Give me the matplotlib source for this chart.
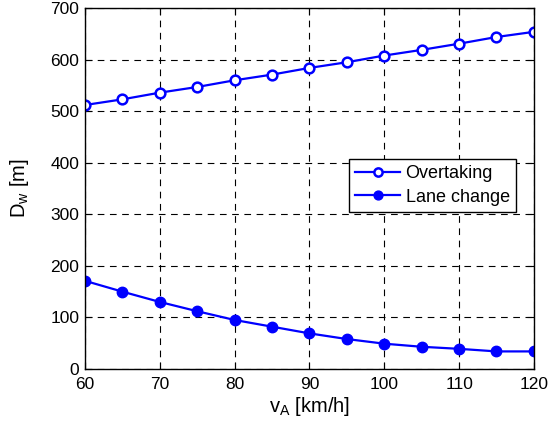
import matplotlib
matplotlib.use("Agg")
import matplotlib.pyplot as plt

# Data
speed = [60, 65, 70, 75, 80, 85, 90, 95, 100, 105, 110, 115, 120]
overtaking = [512, 523, 536, 547, 560, 571, 584, 595, 608, 619, 631, 644, 654]
lane_change = [171, 150, 130, 112, 95, 82, 69, 58, 49, 43, 39, 34, 34]
x_ticks = [60, 70, 80, 90, 100, 110, 120]
y_ticks = [0, 100, 200, 300, 400, 500, 600, 700]

plt.rcParams["font.family"] = ["Liberation Sans", "DejaVu Sans"]
plt.rcParams["mathtext.fontset"] = "custom"
plt.rcParams["mathtext.rm"] = "Liberation Sans"
plt.rcParams["mathtext.it"] = "Liberation Sans"

fig = plt.figure(figsize=(5.51, 4.28), dpi=100)
ax = fig.add_axes([0.154, 0.138, 0.815, 0.843])

ax.plot(speed, overtaking, color="blue", lw=1.6, marker="o", ms=7,
        mfc="white", mec="blue", mew=1.8, label="Overtaking")
ax.plot(speed, lane_change, color="blue", lw=1.6, marker="o", ms=7.5,
        mfc="blue", mec="blue", label="Lane change")

ax.set_xlim(60, 120)
ax.set_ylim(0, 700)
ax.set_xticks(x_ticks)
ax.set_yticks(y_ticks)
ax.tick_params(direction="in", top=True, right=True, labelsize=12.5, length=5)
ax.tick_params(axis="x", pad=6)
ax.tick_params(axis="y", pad=4)
ax.grid(True, color="black", linestyle=(0, (6, 5)), linewidth=0.8)
for s in ax.spines.values():
    s.set_linewidth(1.0)

ax.set_xlabel(r"v$_{\mathrm{A}}$ [km/h]", fontsize=14.5, labelpad=2)
ax.set_ylabel(r"D$_{\mathrm{w}}$ [m]", fontsize=14.5, labelpad=14)

leg = ax.legend(loc="upper right", bbox_to_anchor=(0.96, 0.582), borderaxespad=0,
                fontsize=13, fancybox=False, edgecolor="black", framealpha=1,
                handlelength=2.5, borderpad=0.35, labelspacing=0.35,
                handletextpad=0.3, markerscale=0.85)
leg.get_frame().set_linewidth(1.0)

fig.savefig("out.png", dpi=100)
